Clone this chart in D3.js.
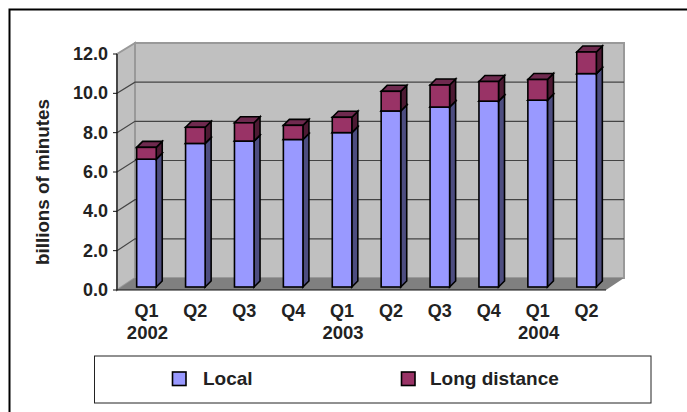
<!DOCTYPE html>
<html>
<head>
<meta charset="utf-8">
<script src="https://cdn.jsdelivr.net/npm/d3@7"></script>
<style>
  html, body { margin: 0; padding: 0; background: #fff; }
  svg { display: block; }
  text { font-family: "Liberation Sans", sans-serif; font-weight: bold; fill: #222; font-size: 18px; }
</style>
</head>
<body>
<svg width="687" height="412"></svg>
<script>
const quarters = ['Q1', 'Q2', 'Q3', 'Q4', 'Q1', 'Q2', 'Q3', 'Q4', 'Q1', 'Q2'];
const years = ['2002', '', '', '', '2003', '', '', '', '2004', ''];
const local = [6.5, 7.3, 7.42, 7.5, 7.85, 8.95, 9.15, 9.45, 9.5, 10.85];
const longDistance = [0.6, 0.82, 0.93, 0.72, 0.78, 1.0, 1.12, 1.0, 1.05, 1.1];
const seriesNames = ['Local', 'Long distance'];
const yTicks = [0, 2, 4, 6, 8, 10, 12];

const svg = d3.select('svg');

// plot box, front edge of the floor
const x0 = 117, x1 = 606;
const x = d3.scaleBand().domain(d3.range(quarters.length)).range([122, 611]).paddingInner(0.6).paddingOuter(0.3);
const y = d3.scaleLinear().domain([0, 12]).range([290, 54]);
const yBack = d3.scaleLinear().domain([0, 12]).range([278, 43]);  // same values on the back wall
const wallDx = 18;                 // depth of the whole box
const barDx = 6, barDy = -6;       // depth of a bar
const barShift = -3;               // bars stand a bit behind the front edge

const colors = {
  wall: '#c0c0c0', floor: '#808080', edge: '#999',
  local: ['#9999ff', '#4d4d80', '#5c5c99'],
  long: ['#993366', '#4d1a33', '#6f2a4f']
};

// outer frame, open at right and bottom like the picture
svg.append('path')
  .attr('d', 'M9.5,412V9.5H687')
  .attr('fill', 'none').attr('stroke', '#000').attr('stroke-width', 2);

const [yBase, yTop] = y.range();
const [backBase, backTop] = yBack.range();

// side wall, back wall, floor
svg.append('polygon')
  .attr('points', [[x0, yBase], [x0 + wallDx, backBase], [x0 + wallDx, backTop], [x0, yTop]].join(' '))
  .attr('fill', colors.wall).attr('stroke', colors.edge).attr('stroke-width', 2);
svg.append('rect')
  .attr('x', x0 + wallDx).attr('y', backTop)
  .attr('width', x1 - x0).attr('height', backBase - backTop)
  .attr('fill', colors.wall).attr('stroke', colors.edge).attr('stroke-width', 2);
svg.append('polygon')
  .attr('points', [[x0, yBase], [x1, yBase], [x1 + wallDx, backBase], [x0 + wallDx, backBase]].join(' '))
  .attr('fill', colors.floor);

// gridlines
yTicks.filter(d => d > 0 && d < 12).forEach(d => {
  svg.append('path')
    .attr('d', `M${x0},${y(d)}L${x0 + wallDx},${yBack(d)}H${x1 + wallDx}`)
    .attr('fill', 'none').attr('stroke', '#444').attr('stroke-width', 1.2);
});

// axis lines and labels
svg.append('path')
  .attr('d', `M${x0},${yTop}V${yBase}H${x1}`)
  .attr('fill', 'none').attr('stroke', '#111').attr('stroke-width', 1.2);

const yAxis = svg.append('g').selectAll('g').data(yTicks).join('g');
yAxis.append('line')
  .attr('x1', x0 - 4).attr('x2', x0)
  .attr('y1', d => y(d)).attr('y2', d => y(d))
  .attr('stroke', '#111');
yAxis.append('text')
  .attr('x', 108).attr('y', d => y(d) + 6)
  .attr('text-anchor', 'end')
  .text(d => d.toFixed(1));

svg.append('text')
  .attr('transform', 'translate(49,182) rotate(-90)')
  .attr('text-anchor', 'middle')
  .style('font-size', '18.8px')
  .text('billions of minutes');

// one 3d box
function box(g, bx, w, top, bottom, c) {
  const r = bx + w;
  g.append('polygon')
    .attr('points', [[r, bottom], [r + barDx, bottom + barDy], [r + barDx, top + barDy], [r, top]].join(' '))
    .attr('fill', c[1]).attr('stroke', '#000').attr('stroke-width', 1.6);
  g.append('polygon')
    .attr('points', [[bx, top], [bx + barDx, top + barDy], [r + barDx, top + barDy], [r, top]].join(' '))
    .attr('fill', c[2]).attr('stroke', '#000').attr('stroke-width', 1.6);
  g.append('rect')
    .attr('x', bx).attr('y', top).attr('width', w).attr('height', bottom - top)
    .attr('fill', c[0]).attr('stroke', '#000').attr('stroke-width', 1.6);
}

local.forEach((v, i) => {
  const g = svg.append('g').attr('transform', `translate(0,${barShift})`);
  box(g, x(i), x.bandwidth(), y(v), y(0), colors.local);
  box(g, x(i), x.bandwidth(), y(v + longDistance[i]), y(v), colors.long);
});

// category labels
svg.append('g').selectAll('text').data(quarters).join('text')
  .attr('x', (d, i) => x(i) + x.bandwidth() / 2)
  .attr('y', 317)
  .attr('text-anchor', 'middle')
  .text(d => d);
svg.append('g').selectAll('text').data(years).join('text')
  .attr('x', (d, i) => x(i) + x.bandwidth() / 2 + 1)
  .attr('y', 338.5)
  .attr('text-anchor', 'middle')
  .style('font-size', '18.5px')
  .text(d => d);

// legend
svg.append('rect')
  .attr('x', 94.5).attr('y', 356).attr('width', 556.5).attr('height', 47)
  .attr('fill', '#fff').attr('stroke', '#222').attr('stroke-width', 1);
const legendX = d3.scaleOrdinal().domain(seriesNames).range([172.5, 401.5]);
const legendColor = d3.scaleOrdinal().domain(seriesNames).range([colors.local[0], colors.long[0]]);
const legend = svg.append('g').selectAll('g').data(seriesNames).join('g')
  .attr('transform', d => `translate(${legendX(d)},372)`);
legend.append('rect')
  .attr('width', 13.5).attr('height', 13.5)
  .attr('fill', d => legendColor(d)).attr('stroke', '#000').attr('stroke-width', 1.6);
legend.append('text')
  .attr('x', (d, i) => i === 0 ? 30.5 : 28.5).attr('y', 13)
  .style('font-size', '19px')
  .text(d => d);
</script>
</body>
</html>
